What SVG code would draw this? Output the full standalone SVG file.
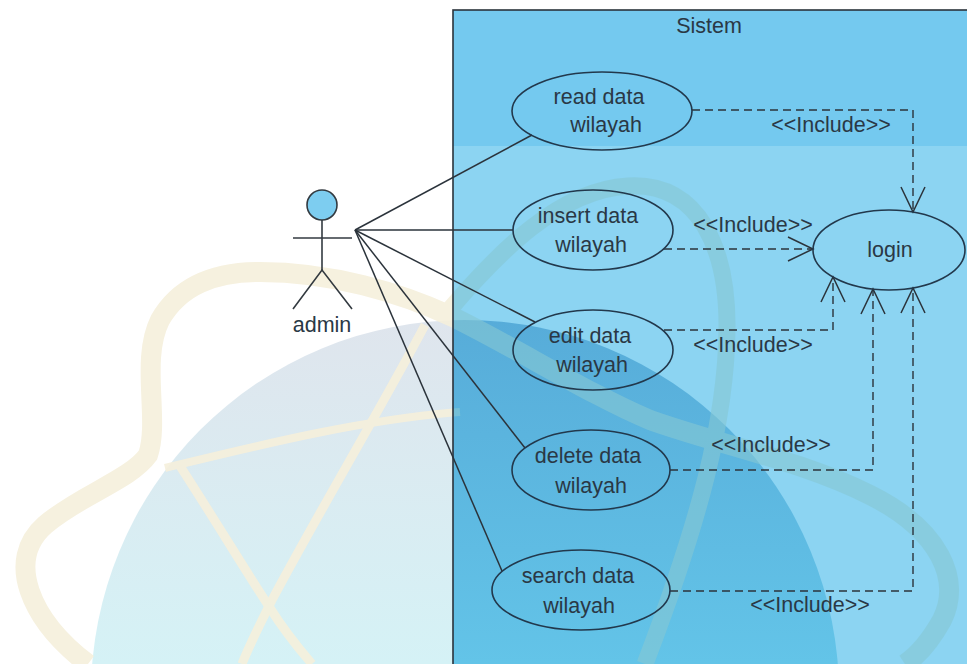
<svg xmlns="http://www.w3.org/2000/svg" width="967" height="664" viewBox="0 0 967 664">
  <style>
    text { font-family: "Liberation Sans", Arial, sans-serif; font-size: 21.5px; fill: #2a3845; text-anchor: middle; }
    .uc { fill: none; stroke: #22384c; stroke-width: 1.6; }
    .assoc { fill: none; stroke: #2b333b; stroke-width: 1.5; }
    .incl { fill: none; stroke: #2b333b; stroke-width: 1.4; stroke-dasharray: 8 5; marker-end: url(#open); }
    .actor { fill: none; stroke: #333a40; stroke-width: 1.6; }
    .band-out { fill: none; stroke: #f6f0dc; opacity: 0.9; }
    .band-in { fill: none; stroke: #86c8d4; opacity: 0.6; }
  </style>
  <defs>
    <marker id="open" viewBox="-27 -14 29 28" refX="0" refY="0" markerWidth="29" markerHeight="28" markerUnits="userSpaceOnUse" orient="auto">
      <path d="M-25,-12 L0,0 L-25,12" fill="none" stroke="#2b333b" stroke-width="1.5"/>
    </marker>
    <clipPath id="inBox"><rect x="453" y="10" width="520" height="660"/></clipPath>
    <clipPath id="outBox"><rect x="0" y="0" width="453" height="664"/></clipPath>
    <linearGradient id="globeOut" x1="0" y1="320" x2="0" y2="664" gradientUnits="userSpaceOnUse">
      <stop offset="0" stop-color="#dfe5ed"/>
      <stop offset="1" stop-color="#d5f2f6"/>
    </linearGradient>
    <linearGradient id="globeIn" x1="0" y1="320" x2="0" y2="664" gradientUnits="userSpaceOnUse">
      <stop offset="0" stop-color="#57acd9"/>
      <stop offset="1" stop-color="#63c4e8"/>
    </linearGradient>
    <!-- orbit bands of the background emblem -->
    <g id="bands">
      <path d="M88,664 C30,620 5,560 45,525 C80,495 130,480 148,455 C160,420 140,360 160,320 C180,285 215,272 260,272 C330,272 400,292 455,318 C520,350 590,395 650,420 C720,445 800,460 870,495 C940,530 962,580 942,620 C928,645 914,658 905,664" stroke-width="20"/>
      <path d="M445,315 C500,250 560,190 628,186 C700,182 728,250 727,330 C726,420 700,520 645,664" stroke-width="17"/>
      <path d="M165,468 C260,445 360,420 460,412" stroke-width="8"/>
      <path d="M425,325 C380,410 320,510 272,600 C258,628 248,648 242,664" stroke-width="9"/>
      <path d="M180,466 C215,520 245,570 270,608 C285,632 300,650 312,664" stroke-width="9"/>
    </g>
  </defs>

  <!-- page and background emblem -->
  <rect x="0" y="0" width="967" height="664" fill="#ffffff"/>
  <g id="backdrop">
    <circle cx="465" cy="694" r="374" fill="url(#globeOut)"/>
    <rect x="453" y="10" width="520" height="660" fill="#74c9ef"/>
    <rect x="453" y="146" width="520" height="520" fill="#8cd4f2"/>
    <circle cx="465" cy="694" r="374" fill="url(#globeIn)" clip-path="url(#inBox)"/>
    <use href="#bands" class="band-out" clip-path="url(#outBox)"/>
    <use href="#bands" class="band-in" clip-path="url(#inBox)"/>
  </g>

  <!-- system boundary -->
  <g id="sistem">
    <rect x="453" y="10" width="530" height="680" fill="none" stroke="#2b333b" stroke-width="1.6"/>
    <text x="709" y="33">Sistem</text>
  </g>

  <!-- associations and include dependencies -->
  <g id="connectors">
    <line class="assoc" x1="355" y1="230" x2="532" y2="135"/>
    <line class="assoc" x1="355" y1="230" x2="513" y2="230"/>
    <line class="assoc" x1="355" y1="230" x2="535" y2="322"/>
    <line class="assoc" x1="355" y1="230" x2="525" y2="448"/>
    <line class="assoc" x1="355" y1="230" x2="502" y2="571"/>

    <path class="incl" d="M692,110 H913 V212"/>
    <path class="incl" d="M664,249 H813"/>
    <path class="incl" d="M664,330 H833 V277"/>
    <path class="incl" d="M670,470 H873 V289"/>
    <path class="incl" d="M670,591 H913 V288"/>

    <text x="831" y="132">&lt;&lt;Include&gt;&gt;</text>
    <text x="753" y="232">&lt;&lt;Include&gt;&gt;</text>
    <text x="753" y="352">&lt;&lt;Include&gt;&gt;</text>
    <text x="771" y="452">&lt;&lt;Include&gt;&gt;</text>
    <text x="810" y="612">&lt;&lt;Include&gt;&gt;</text>
  </g>

  <!-- actor -->
  <g id="admin">
    <circle cx="322" cy="205" r="15" fill="#7dcdf0" stroke="#333a40" stroke-width="1.6"/>
    <line class="actor" x1="322" y1="220" x2="322" y2="270"/>
    <line class="actor" x1="293" y1="238" x2="352" y2="238"/>
    <polyline class="actor" points="293,309 322,270 352,309"/>
    <text x="322" y="332" fill="#444">admin</text>
  </g>

  <!-- use cases -->
  <g id="read-data-wilayah">
    <ellipse class="uc" cx="602" cy="111" rx="90" ry="39"/>
    <text x="599" y="104">read data</text>
    <text x="606" y="132">wilayah</text>
  </g>
  <g id="insert-data-wilayah">
    <ellipse class="uc" cx="593" cy="230" rx="80" ry="40"/>
    <text x="588" y="223">insert data</text>
    <text x="591" y="252">wilayah</text>
  </g>
  <g id="edit-data-wilayah">
    <ellipse class="uc" cx="593" cy="350" rx="80" ry="40"/>
    <text x="590" y="343">edit data</text>
    <text x="592" y="372">wilayah</text>
  </g>
  <g id="delete-data-wilayah">
    <ellipse class="uc" cx="591" cy="470" rx="79" ry="40"/>
    <text x="588" y="463">delete data</text>
    <text x="591" y="493">wilayah</text>
  </g>
  <g id="search-data-wilayah">
    <ellipse class="uc" cx="581" cy="590" rx="89" ry="40"/>
    <text x="578" y="583">search data</text>
    <text x="579" y="613">wilayah</text>
  </g>
  <g id="login">
    <ellipse class="uc" cx="889" cy="250" rx="76" ry="40"/>
    <text x="890" y="257">login</text>
  </g>
</svg>
